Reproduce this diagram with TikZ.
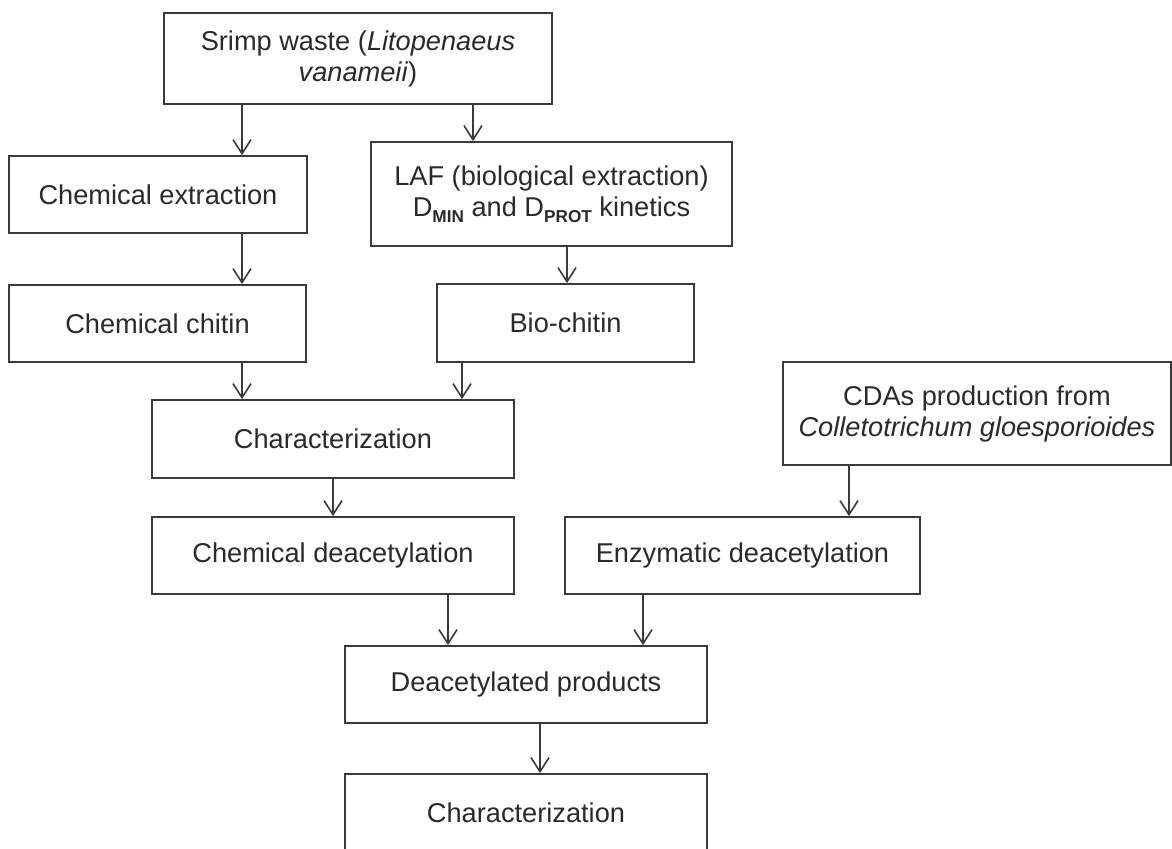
\documentclass[tikz,border=0pt]{standalone}
\usepackage{fontspec}
\setmainfont{Liberation Sans}
\usetikzlibrary{arrows.meta}
\definecolor{linec}{HTML}{3A3A3A}
\definecolor{textc}{HTML}{2A2A2A}
\newcommand\subsc[1]{\raisebox{-0.45ex}{\fontsize{8.6}{9}\selectfont\bfseries #1}}
\tikzset{
  box/.style={draw=linec, line width=0.9pt, rectangle, inner sep=0pt, align=center,
    text=textc, font=\fontsize{13.6}{15.5}\selectfont},
  arr/.style={draw=linec, line width=0.8pt, -{Straight Barb[length=7pt,width=9pt,line width=0.8pt]}}
}
\begin{document}
\begin{tikzpicture}[x=0.5pt,y=-0.5pt]
\useasboundingbox (0,0) rectangle (1172,848);
\node[box, minimum width=194pt, minimum height=45.5pt] (top) at (358,58.5)
  {Srimp waste (\textit{Litopenaeus}\\\textit{vanameii})};
\node[box, minimum width=149pt, minimum height=38.5pt] (chemext) at (158,194.5)
  {Chemical extraction};
\node[box, minimum width=180.5pt, minimum height=52pt] (laf) at (551.5,194)
  {LAF (biological extraction)\\D\subsc{MIN} and D\subsc{PROT} kinetics};
\node[box, minimum width=148.5pt, minimum height=38.5pt] (chemchit) at (157.5,323.5)
  {Chemical chitin};
\node[box, minimum width=128.5pt, minimum height=39pt] (bio) at (565.5,323)
  {Bio-chitin};
\node[box, minimum width=181pt, minimum height=39pt] (char1) at (333,439)
  {Characterization};
\node[box, minimum width=194pt, minimum height=51.5pt] (cdas) at (977,413.5)
  {CDAs production from\\\textit{Colletotrichum gloesporioides}};
\node[box, minimum width=181pt, minimum height=38.5pt] (chemdeac) at (333,555.5)
  {Chemical deacetylation};
\node[box, minimum width=177.5pt, minimum height=38.5pt] (enz) at (742.5,555.5)
  {Enzymatic deacetylation};
\node[box, minimum width=181pt, minimum height=38.5pt] (deacprod) at (526,684.5)
  {Deacetylated products};
\node[box, minimum width=181pt, minimum height=39pt] (char2) at (526,813)
  {Characterization};

\draw[arr] (top.south -| 242,0) -- (chemext.north -| 242,0);
\draw[arr] (top.south -| 473,0) -- (laf.north -| 473,0);
\draw[arr] (chemext.south -| 242,0) -- (chemchit.north -| 242,0);
\draw[arr] (laf.south -| 567,0) -- (bio.north -| 567,0);
\draw[arr] (chemchit.south -| 242,0) -- (char1.north -| 242,0);
\draw[arr] (bio.south -| 462,0) -- (char1.north -| 462,0);
\draw[arr] (char1.south -| 333,0) -- (chemdeac.north -| 333,0);
\draw[arr] (cdas.south -| 849,0) -- (enz.north -| 849,0);
\draw[arr] (chemdeac.south -| 448,0) -- (deacprod.north -| 448,0);
\draw[arr] (enz.south -| 643,0) -- (deacprod.north -| 643,0);
\draw[arr] (deacprod.south -| 540,0) -- (char2.north -| 540,0);
\end{tikzpicture}
\end{document}
